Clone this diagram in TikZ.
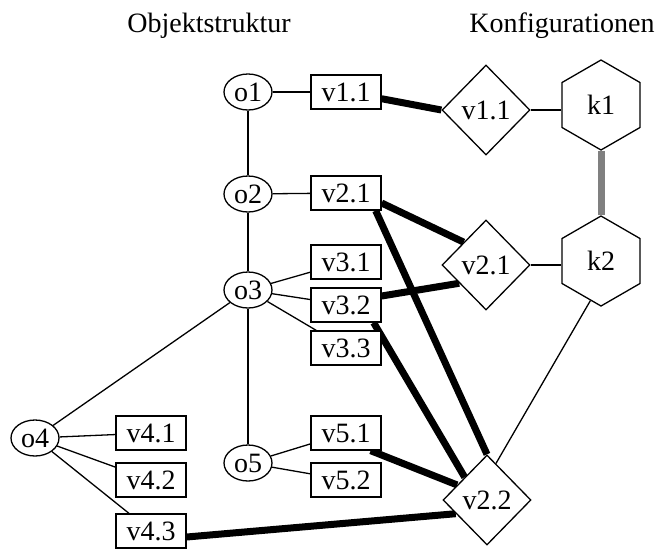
\documentclass[tikz,border=0pt]{standalone}
\usepackage{fontspec}
\setmainfont{Liberation Serif}
\usetikzlibrary{shapes.geometric,calc,backgrounds}
\begin{document}
\begin{tikzpicture}[x=1pt,y=-1pt,
  every node/.style={font=\fontsize{28}{33}\selectfont},
  obj/.style={ellipse,draw,fill=white,line width=1.3pt,minimum width=48pt,minimum height=36pt,inner sep=0pt},
  ver/.style={rectangle,draw,fill=white,line width=1.3pt,minimum width=70pt,minimum height=34pt,inner sep=0pt},
  sel/.style={diamond,draw,fill=white,line width=1.3pt,minimum width=88pt,minimum height=90pt,inner sep=0pt},
  konf/.style={regular polygon,regular polygon sides=6,shape border rotate=30,draw,fill=white,line width=1.3pt,minimum size=90pt,inner sep=0pt},
  rel/.style={line width=1.3pt},
  heavy/.style={line width=7pt},
  link/.style={line width=7pt,draw=black!50}]
\useasboundingbox (0,0) rectangle (655,549);

% headings
\node[anchor=base] (head1) at (209,32) {Objektstruktur};
\node[anchor=base] (head2) at (562,32) {Konfigurationen};

% object structure
\node[obj] (o1) at (248,92)  {o1};
\node[obj] (o2) at (248,194) {o2};
\node[obj] (o3) at (248,290) {o3};
\node[obj] (o5) at (248,463) {o5};
\node[obj] (o4) at (35,438)  {o4};

% versions
\node[ver] (v11b) at (346,92)  {v1.1};
\node[ver] (v21b) at (346,193) {v2.1};
\node[ver] (v31)  at (346,262) {v3.1};
\node[ver] (v32)  at (346,305) {v3.2};
\node[ver] (v33)  at (346,348) {v3.3};
\node[ver] (v51)  at (346,433) {v5.1};
\node[ver] (v52)  at (346,480) {v5.2};
\node[ver] (v41)  at (151,433) {v4.1};
\node[ver] (v42)  at (151,480) {v4.2};
\node[ver] (v43)  at (151,531) {v4.3};

% selected versions
\node[sel] (v11d) at (486,110) {v1.1};
\node[sel] (v21d) at (486,265) {v2.1};
\node[sel] (v22)  at (487,500) {v2.2};

% configurations
\node[konf] (k1) at (601,105) {k1};
\node[konf] (k2) at (601,261) {k2};

\begin{pgfonlayer}{background}
  % structure edges
  \draw[rel] (o1) -- (o2);
  \draw[rel] (o2) -- (o3);
  \draw[rel] (o3) -- (o5);
  \draw[rel] (o3) -- (o4);
  \draw[rel] (o1) -- (v11b);
  \draw[rel] (o2) -- (v21b);
  \draw[rel] (o3) -- (v31);
  \draw[rel] (o3) -- (v32);
  \draw[rel] (o3) -- (v33);
  \draw[rel] (o4) -- (v41);
  \draw[rel] (o4) -- (v42);
  \draw[rel] (o4) -- (v43);
  \draw[rel] (o5) -- (v51);
  \draw[rel] (o5) -- (v52);

  % version selections
  \draw[heavy] (v11b) -- (v11d.west);
  \draw[heavy] ($(v21b.east)+(0,10)$) -- (v21d.north west);
  \draw[heavy] ($(v32.east)+(0,-9)$) -- ($(v21d.west)!0.4!(v21d.south)$);
  \draw[heavy] ($(v21b.south east)+(-6,0)$) -- (v22.north);
  \draw[heavy] ($(v32.south east)+(-8,0)$) -- (v22.north west);
  \draw[heavy] ($(v51.south east)+(-11,0)$) -- ($(v22.west)!0.33!(v22.north)$);
  \draw[heavy] ($(v43.east)+(0,6)$) -- ($(v22.west)!0.3!(v22.south)$);

  % configuration membership
  \draw[rel] (v11d.east) -- (v11d.east -| k1.180);
  \draw[rel] (v21d.east) -- (v21d.east -| k2.180);
  \draw[rel] ($(v22.north)!0.2!(v22.east)$) -- (k2.255);
  \draw[link] (k1.270) -- (k2.90);
\end{pgfonlayer}
\end{tikzpicture}
\end{document}
